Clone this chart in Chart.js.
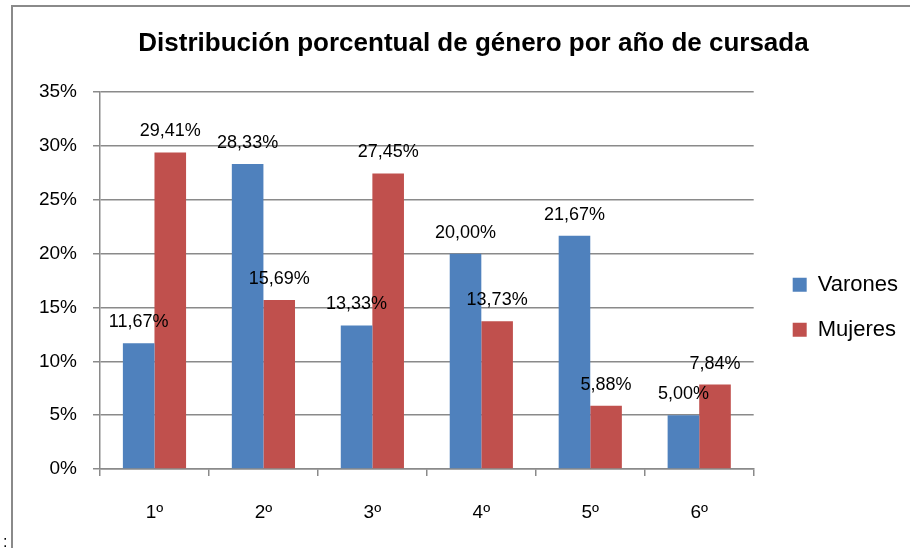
<!DOCTYPE html>
<html>
<head>
<meta charset="utf-8">
<script src="https://cdn.jsdelivr.net/npm/chart.js@4.4.0/dist/chart.umd.min.js"></script>
<style>
    body { margin: 0; background: #fff; width: 910px; height: 548px; overflow: hidden; position: relative; font-family: 'Liberation Sans', sans-serif; }
    #frame { position: absolute; left: 11px; top: 5px; width: 910px; height: 560px; border-left: 2px solid #8a8a8a; border-top: 2px solid #8a8a8a; }
    #wrap { position: absolute; left: 0; top: 0; width: 910px; height: 548px; }
    #colon { position: absolute; left: 3px; top: 533px; font-size: 16px; color: #000; }
</style>
</head>
<body>
<div id="frame"></div>
<div id="wrap"><canvas id="generoChart"></canvas></div>
<div id="colon">:</div>
<script>
// Datos del gráfico
const anios = ['1º', '2º', '3º', '4º', '5º', '6º'];
const varones = [11.67, 28.33, 13.33, 20.00, 21.67, 5.00];
const mujeres = [29.41, 15.69, 27.45, 13.73, 5.88, 7.84];
const ticksY = [0, 5, 10, 15, 20, 25, 30, 35];

const GRIS = '#8a8a8a';
const FUENTE = "'Liberation Sans', sans-serif";

// Etiquetas de valor encima de cada barra (formato con coma decimal)
const etiquetasPlugin = {
    id: 'etiquetas',
    afterDatasetsDraw(chart) {
        const ctx = chart.ctx;
        ctx.save();
        ctx.font = '18px ' + FUENTE;
        ctx.fillStyle = '#000';
        ctx.textAlign = 'center';
        ctx.textBaseline = 'middle';
        chart.data.datasets.forEach((ds, i) => {
            chart.getDatasetMeta(i).data.forEach((bar, j) => {
                const txt = ds.data[j].toFixed(2).replace('.', ',') + '%';
                ctx.fillText(txt, bar.x, bar.y - 21);
            });
        });
        ctx.restore();
    }
};

const ctx = document.getElementById('generoChart').getContext('2d');
new Chart(ctx, {
    type: 'bar',
    data: {
        labels: anios,
        datasets: [
            { label: 'Varones', data: varones, backgroundColor: '#4F81BD', categoryPercentage: 0.58, barPercentage: 1 },
            { label: 'Mujeres', data: mujeres, backgroundColor: '#C0504D', categoryPercentage: 0.58, barPercentage: 1 }
        ]
    },
    options: {
        responsive: true,
        maintainAspectRatio: false,
        animation: false,
        layout: { padding: { left: 0, right: 2, top: 0, bottom: 0 } },
        plugins: {
            title: {
                display: true,
                // espacios al inicio: el título original está algo corrido a la derecha
                text: '\u2002\u2002\u2002Distribución porcentual de género por año de cursada',
                color: '#000',
                font: { family: FUENTE, size: 26, weight: 'bold' },
                padding: { top: 28, bottom: 33 }
            },
            legend: {
                position: 'right',
                title: { display: true, text: ' ', font: { size: 12 }, padding: { top: 26, bottom: 26 } },
                labels: {
                    color: '#000',
                    font: { family: FUENTE, size: 22 },
                    boxWidth: 14,
                    boxHeight: 14,
                    padding: 23
                }
            },
            tooltip: { enabled: false }
        },
        scales: {
            x: {
                grid: { display: true, drawOnChartArea: false, color: GRIS, tickLength: 7, lineWidth: 1.5 },
                border: { color: GRIS, width: 1.5 },
                ticks: { color: '#000', font: { family: FUENTE, size: 19 }, padding: 25 },
                afterFit(scale) { scale.height = 79; }
            },
            y: {
                min: 0,
                max: 35,
                afterBuildTicks(scale) { scale.ticks = ticksY.map(v => ({ value: v })); },
                grid: { color: GRIS, tickLength: 7, lineWidth: 1.5 },
                border: { color: GRIS, width: 1.5 },
                ticks: { color: '#000', font: { family: FUENTE, size: 19 }, padding: 16, callback: v => v + '%' },
                afterFit(scale) { scale.width = 100; }
            },
            // eje vacío: solo deja espacio entre el área y la leyenda
            hueco: {
                position: 'right',
                grid: { display: false },
                border: { display: false },
                ticks: { display: false },
                afterFit(scale) { scale.width = 16; }
            }
        }
    },
    plugins: [etiquetasPlugin]
});
</script>
</body>
</html>
